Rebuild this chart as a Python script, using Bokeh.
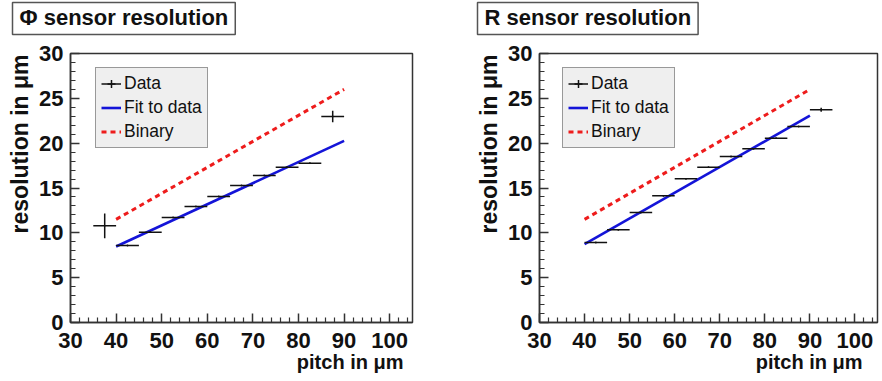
import math
from bokeh.plotting import figure
from bokeh.models import Legend, LegendItem, Range1d, FixedTicker, ColumnDataSource, Title
from bokeh.layouts import row
from bokeh.embed import file_html
from bokeh.resources import INLINE

# ---------------- data ----------------
x_ticks = [30, 40, 50, 60, 70, 80, 90, 100]
x_minor = [32, 34, 36, 38, 42, 44, 46, 48, 52, 54, 56, 58, 62, 64, 66, 68,
           72, 74, 76, 78, 82, 84, 86, 88, 92, 94, 96, 98, 102, 104]
y_ticks = [0, 5, 10, 15, 20, 25, 30]
y_minor = [1, 2, 3, 4, 6, 7, 8, 9, 11, 12, 13, 14, 16, 17, 18, 19,
           21, 22, 23, 24, 26, 27, 28, 29]

# Phi sensor
pitch_phi = [37.5, 42.5, 47.5, 52.5, 57.5, 62.5, 67.5, 72.5, 77.5, 82.5, 87.5]
res_phi = [10.78, 8.59, 10.07, 11.71, 12.94, 14.05, 15.28, 16.39, 17.32, 17.77, 22.97]
xerr_phi = [2.5, 2.5, 2.5, 2.5, 2.5, 2.5, 2.5, 2.5, 2.5, 2.5, 2.5]
yerr_phi = [1.39, 0.08, 0.08, 0.08, 0.08, 0.08, 0.08, 0.08, 0.08, 0.08, 0.65]
fit_pitch_phi = [40, 90]
fit_res_phi = [8.47, 20.25]

# R sensor
pitch_r = [42.5, 47.5, 52.5, 57.5, 62.5, 67.5, 72.5, 77.5, 82.5, 87.5, 92.5]
res_r = [8.92, 10.34, 12.27, 14.13, 16.03, 17.32, 18.51, 19.37, 20.55, 21.86, 23.72]
xerr_r = [2.5, 2.5, 2.5, 2.5, 2.5, 2.5, 2.5, 2.5, 2.5, 2.5, 2.5]
yerr_r = [0.08, 0.08, 0.08, 0.08, 0.08, 0.08, 0.08, 0.08, 0.08, 0.08, 0.22]
fit_pitch_r = [40, 90]
fit_res_r = [8.73, 23.08]

# Binary resolution (pitch / sqrt(12))
binary_pitch = [40, 90]
binary_res = [11.5, 26.0]

FONT = "Liberation Sans"


def make_panel(title, pitch, res, xerr, yerr, fit_x, fit_y, frame_w, bl, br,
               legend_x, title_dx, xlab_dx):
    p = figure(frame_width=frame_w, frame_height=269,
               x_range=Range1d(30, 105), y_range=Range1d(0, 30),
               output_backend="svg", toolbar_location=None,
               min_border_left=bl, min_border_right=br,
               min_border_top=52, min_border_bottom=59)
    p.grid.visible = False
    p.background_fill_color = "white"
    p.border_fill_color = "white"
    p.outline_line_color = "#333333"
    p.outline_line_width = 1.5

    for ax, ticks, minor in ((p.xaxis, x_ticks, x_minor), (p.yaxis, y_ticks, y_minor)):
        ax.ticker = FixedTicker(ticks=ticks, minor_ticks=minor)
        ax.major_tick_in = 9
        ax.major_tick_out = 0
        ax.minor_tick_in = 5
        ax.minor_tick_out = 0
        ax.axis_line_color = "#333333"
        ax.axis_line_width = 1.5
        ax.major_tick_line_color = "#333333"
        ax.major_tick_line_width = 1.5
        ax.minor_tick_line_color = "#333333"
        ax.minor_tick_line_width = 1.2
        ax.major_label_text_font = FONT
        ax.major_label_text_font_style = "bold"
        ax.major_label_text_font_size = "22px"
        ax.major_label_text_color = "#111111"
    p.xaxis.major_label_standoff = 10
    p.yaxis.major_label_standoff = 7

    src = ColumnDataSource(dict(
        x=pitch, y=res,
        x0=[a - e for a, e in zip(pitch, xerr)], x1=[a + e for a, e in zip(pitch, xerr)],
        y0=[b - e for b, e in zip(res, yerr)], y1=[b + e for b, e in zip(res, yerr)],
    ))

    bin_r = p.line(binary_pitch, binary_res, line_color="#ee1c1c", line_width=3, line_dash="5 4")
    fit_r = p.line(fit_x, fit_y, line_color="#1414d8", line_width=2.6)
    xseg = p.segment(x0="x0", y0="y", x1="x1", y1="y", source=src, line_color="#111111", line_width=1.5)
    p.segment(x0="x", y0="y0", x1="x", y1="y1", source=src, line_color="#111111", line_width=1.5)
    cross = p.scatter(x="x", y="y", source=src, marker="cross", size=1,
                      line_color="#111111", line_width=1.5)

    legend = Legend(items=[
        LegendItem(label="Data", renderers=[xseg, cross]),
        LegendItem(label="Fit to data", renderers=[fit_r]),
        LegendItem(label="Binary", renderers=[bin_r]),
    ], location=(legend_x, 174))
    legend.background_fill_color = "#efefef"
    legend.background_fill_alpha = 1.0
    legend.border_line_color = "#444444"
    legend.border_line_width = 1.5
    legend.label_text_font = FONT
    legend.label_text_font_size = "17.5px"
    legend.label_text_color = "#111111"
    legend.glyph_width = 20
    legend.glyph_height = 21
    legend.label_height = 21
    legend.label_standoff = 3
    legend.spacing = 3
    legend.padding = 5
    legend.margin = 0
    p.add_layout(legend)

    # spacer between the frame and the boxed title (first item = closest to the frame)
    p.add_layout(Title(text=" ", text_font_size="1px", standoff=16), "above")
    p.add_layout(Title(text=title, align="left", vertical_align="bottom", offset=title_dx, standoff=0,
                       text_font=FONT, text_font_style="bold", text_font_size="22px",
                       text_color="#111111",
                       background_fill_color="white", border_line_color="#555555",
                       border_line_width=1.5, padding=(7, 7, 2, 5)), "above")
    p.add_layout(Title(text="resolution in \u03bcm", align="right", offset=1, standoff=8,
                       text_font=FONT, text_font_style="bold", text_font_size="23px",
                       text_color="#111111"), "left")
    p.add_layout(Title(text="pitch in \u03bcm", align="right", vertical_align="top",
                       offset=xlab_dx, standoff=0,
                       text_font=FONT, text_font_style="bold", text_font_size="20px",
                       text_color="#111111"), "below")
    return p


p1 = make_panel("\u03a6 sensor resolution", pitch_phi, res_phi, xerr_phi, yerr_phi,
                fit_pitch_phi, fit_res_phi, frame_w=342, bl=69, br=30,
                legend_x=25, title_dx=-58, xlab_dx=9)
p2 = make_panel("R sensor resolution", pitch_r, res_r, xerr_r, yerr_r,
                fit_pitch_r, fit_res_r, frame_w=338, bl=97, br=3,
                legend_x=23, title_dx=-62, xlab_dx=15)

layout = row(p1, p2)
open("out.html", "w").write(file_html(layout, INLINE))
